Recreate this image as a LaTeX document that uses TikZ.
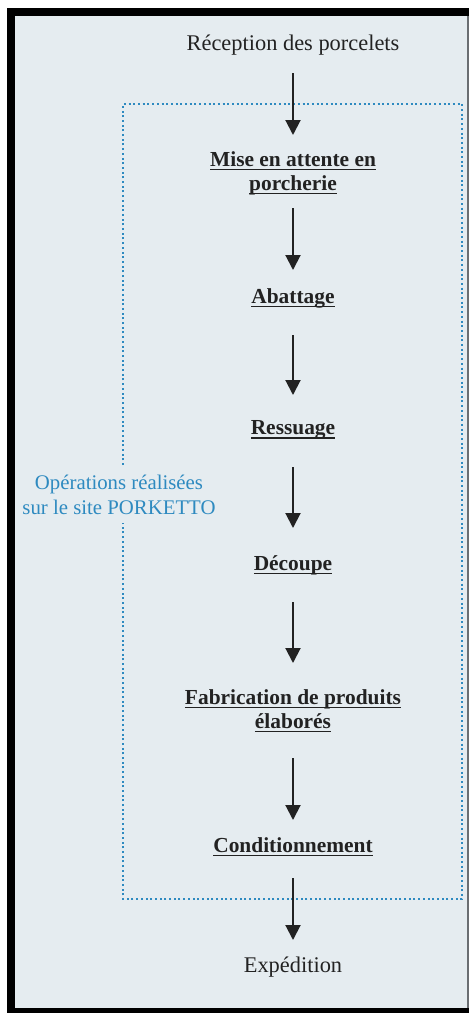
\documentclass[tikz,border=0pt]{standalone}
\usepackage{fontspec}
\setmainfont{Liberation Serif}
\usetikzlibrary{arrows.meta}
\definecolor{bgc}{HTML}{E5ECF0}
\definecolor{ink}{HTML}{222222}
\definecolor{blu}{HTML}{2E8AC0}
\definecolor{edge}{HTML}{6A6E72}
\newcommand\ulx[1]{\setbox0\hbox{#1}\rlap{\color{ink}\rule[-4pt]{\wd0}{1.4pt}}\box0}
\tikzset{
  lbl/.style={text=ink, font=\fontsize{22.4}{26}\selectfont, align=center, inner sep=0pt},
  stepbox/.style={text=ink, font=\fontsize{21.4}{24}\selectfont\bfseries, align=center, inner sep=0pt},
  arr/.style={draw=ink, line width=2pt, -{Triangle[length=15pt,width=15pt]}},
  zone/.style={draw=blu, line width=2pt, dash pattern=on 2pt off 2.7pt},
  zonelbl/.style={text=blu, font=\fontsize{20.8}{25}\selectfont, align=center, inner sep=0pt},
}
\begin{document}
\begin{tikzpicture}[x=1pt,y=-1pt]
\useasboundingbox (0,0) rectangle (469,1013);
% frame and paper
\fill[white] (0,0) rectangle (469,1013);
\fill[black] (7,8) rectangle (469,1013);
\fill[bgc] (15,16) rectangle (467,1008);
\fill[edge] (467,16) rectangle (469,1008);
% site zone (dotted)
\coordinate (z1) at (123,465);
\coordinate (z2) at (123,104);
\coordinate (z3) at (462,104);
\coordinate (z4) at (462,899);
\coordinate (z5) at (123,899);
\coordinate (z6) at (123,523);
\draw[zone] (z1) -- (z2) -- (z3) -- (z4) -- (z5) -- (z6);
\node[zonelbl] (ops) at (119,495) {Opérations réalisées\\sur le site PORKETTO};
% steps
\node[lbl] (rec) at (293,45) {Réception des porcelets};
\node[stepbox] (mise) at (293,173) {\ulx{Mise en attente en}\\\ulx{porcherie}};
\node[stepbox] (aba) at (293,298) {\ulx{Abattage}};
\node[stepbox] (res) at (293,430) {\ulx{Ressuage}};
\node[stepbox] (dec) at (293,565) {\ulx{Découpe}};
\node[stepbox] (fab) at (293,711) {\ulx{Fabrication de produits}\\\ulx{élaborés}};
\node[stepbox] (cond) at (293,847) {\ulx{Conditionnement}};
\node[lbl] (exp) at (293,967) {Expédition};
% arrows
\draw[arr, shorten <=28pt, shorten >=38pt] (rec.center) -- (mise.center);
\draw[arr, shorten <=35pt, shorten >=28pt] (mise.center) -- (aba.center);
\draw[arr, shorten <=37pt, shorten >=35pt] (aba.center) -- (res.center);
\draw[arr, shorten <=37pt, shorten >=37pt] (res.center) -- (dec.center);
\draw[arr, shorten <=37pt, shorten >=48pt] (dec.center) -- (fab.center);
\draw[arr, shorten <=47pt, shorten >=27pt] (fab.center) -- (cond.center);
\draw[arr, shorten <=31pt, shorten >=27pt] (cond.center) -- (exp.center);
\end{tikzpicture}
\end{document}
